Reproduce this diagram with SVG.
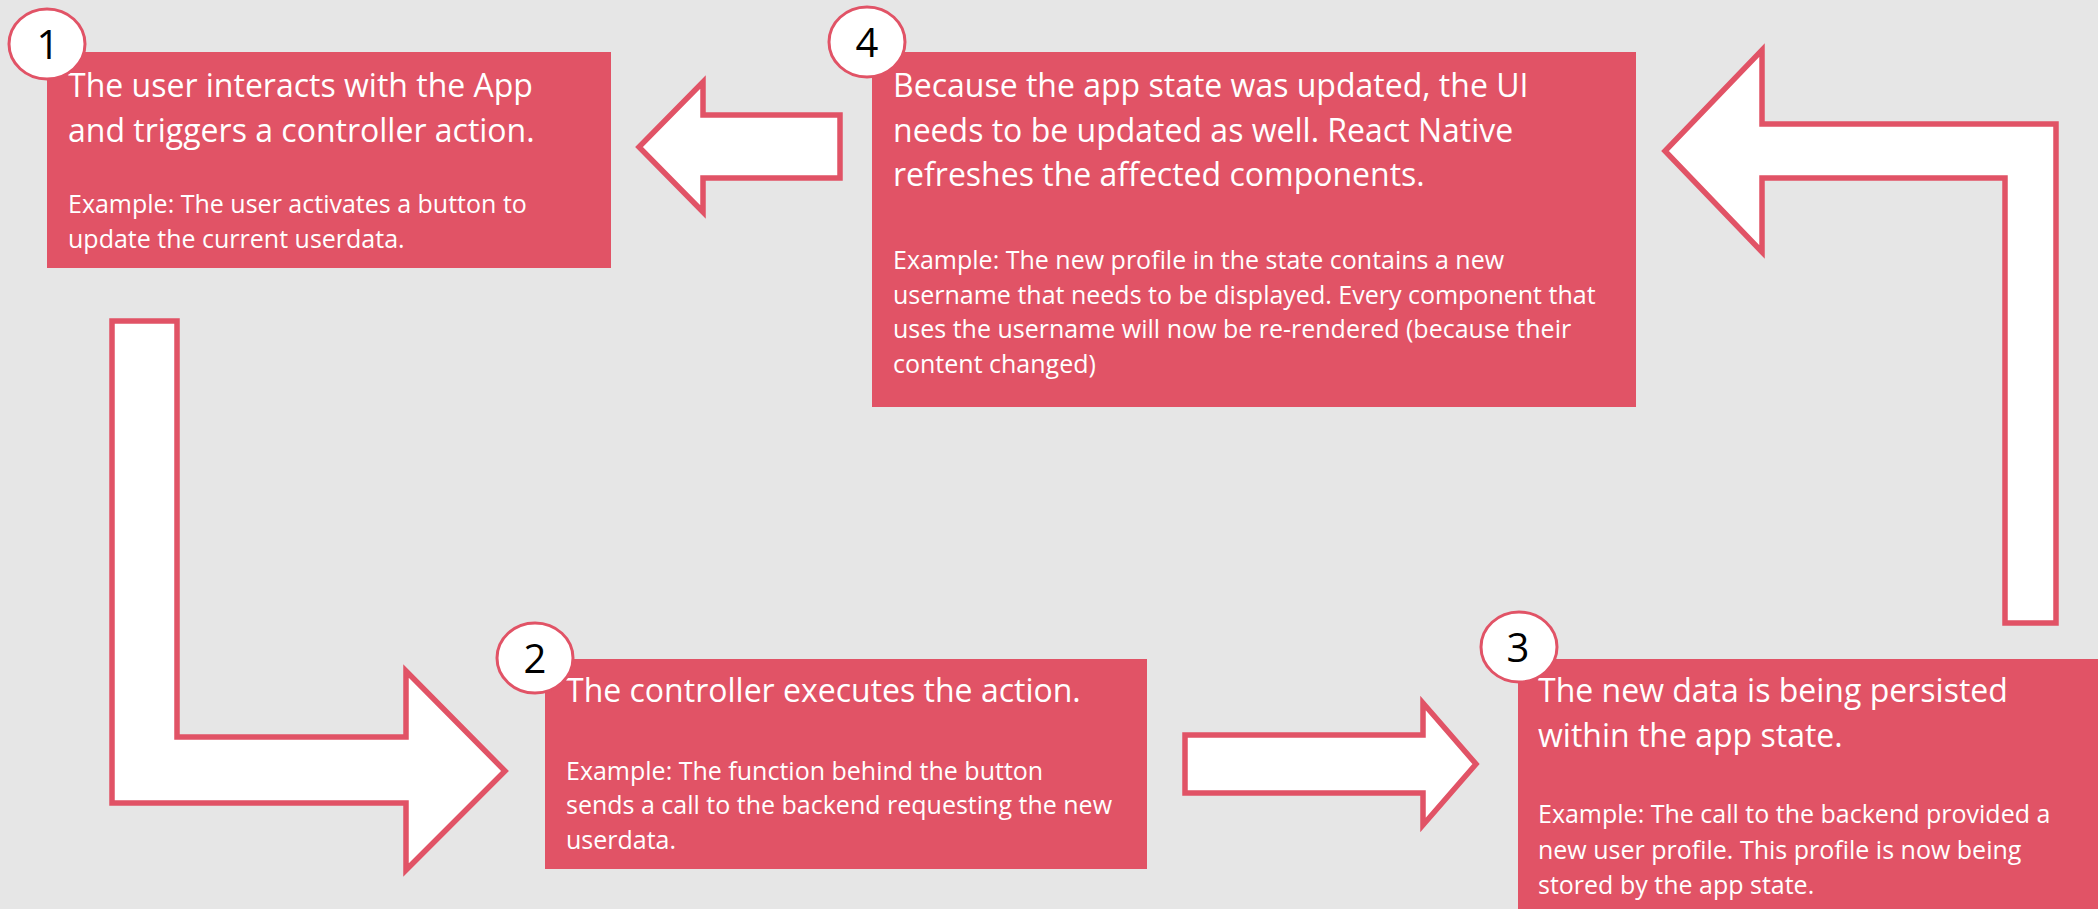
<svg xmlns="http://www.w3.org/2000/svg" width="2098" height="909" viewBox="0 0 2098 909">
<style>
.box{fill:#E15366;}
.arrow{fill:#FFFFFF;stroke:#E15366;stroke-width:5.5;stroke-linejoin:miter;}
.badge{fill:#FFFFFF;stroke:#E15366;stroke-width:3;}
.num{font-family:"Open Sans","Noto Sans",sans-serif;font-size:40px;fill:#000000;text-anchor:middle;}
.title{font-family:"Open Sans","Noto Sans",sans-serif;font-size:32px;fill:#FFFFFF;}
.ex{font-family:"Open Sans","Noto Sans",sans-serif;font-size:25px;fill:#FFFFFF;}
</style>
<rect x="0" y="0" width="2098" height="909" fill="#E6E6E6"/>
<g id="connectors">
  <polygon class="arrow" points="112,321 177,321 177,737 406,737 406,671 505,771 406,870 406,803 112,803"/>
  <polygon class="arrow" points="1185,735 1423,735 1423,703 1476,764 1423,825 1423,793 1185,793"/>
  <polygon class="arrow" points="2005,623 2005,178 1762,178 1762,252 1665,151 1762,50 1762,124 2056,124 2056,623"/>
  <polygon class="arrow" points="840,115 703,115 703,82 639,147 703,212 703,178 840,178"/>
</g>
<g id="node1">
  <rect class="box" x="47" y="52" width="564" height="216"/>
  <text class="title"><tspan x="68" y="97">The user interacts with the App</tspan><tspan x="68" y="142">and triggers a controller action.</tspan></text>
  <text class="ex"><tspan x="68" y="213">Example: The user activates a button to</tspan><tspan x="68" y="248">update the current userdata.</tspan></text>
  <ellipse class="badge" cx="47" cy="44" rx="38" ry="35"/>
  <text class="num" x="48" y="59">1</text>
</g>
<g id="node4">
  <rect class="box" x="872" y="52" width="764" height="355"/>
  <text class="title"><tspan x="893" y="97">Because the app state was updated, the UI</tspan><tspan x="893" y="142">needs to be updated as well. React Native</tspan><tspan x="893" y="186">refreshes the affected components.</tspan></text>
  <text class="ex"><tspan x="893" y="269">Example: The new profile in the state contains a new</tspan><tspan x="893" y="304">username that needs to be displayed. Every component that</tspan><tspan x="893" y="338">uses the username will now be re-rendered (because their</tspan><tspan x="893" y="373">content changed)</tspan></text>
  <ellipse class="badge" cx="867" cy="42" rx="38" ry="35"/>
  <text class="num" x="867" y="57">4</text>
</g>
<g id="node2">
  <rect class="box" x="545" y="659" width="602" height="210"/>
  <text class="title"><tspan x="566" y="702">The controller executes the action.</tspan></text>
  <text class="ex"><tspan x="566" y="780">Example: The function behind the button</tspan><tspan x="566" y="814">sends a call to the backend requesting the new</tspan><tspan x="566" y="849">userdata.</tspan></text>
  <ellipse class="badge" cx="535" cy="658" rx="38" ry="35"/>
  <text class="num" x="535" y="673">2</text>
</g>
<g id="node3">
  <rect class="box" x="1518" y="659" width="580" height="250"/>
  <text class="title"><tspan x="1538" y="702">The new data is being persisted</tspan><tspan x="1538" y="747">within the app state.</tspan></text>
  <text class="ex"><tspan x="1538" y="823">Example: The call to the backend provided a</tspan><tspan x="1538" y="859">new user profile. This profile is now being</tspan><tspan x="1538" y="894">stored by the app state.</tspan></text>
  <ellipse class="badge" cx="1519" cy="647" rx="38" ry="35"/>
  <text class="num" x="1518" y="662">3</text>
</g>
</svg>
